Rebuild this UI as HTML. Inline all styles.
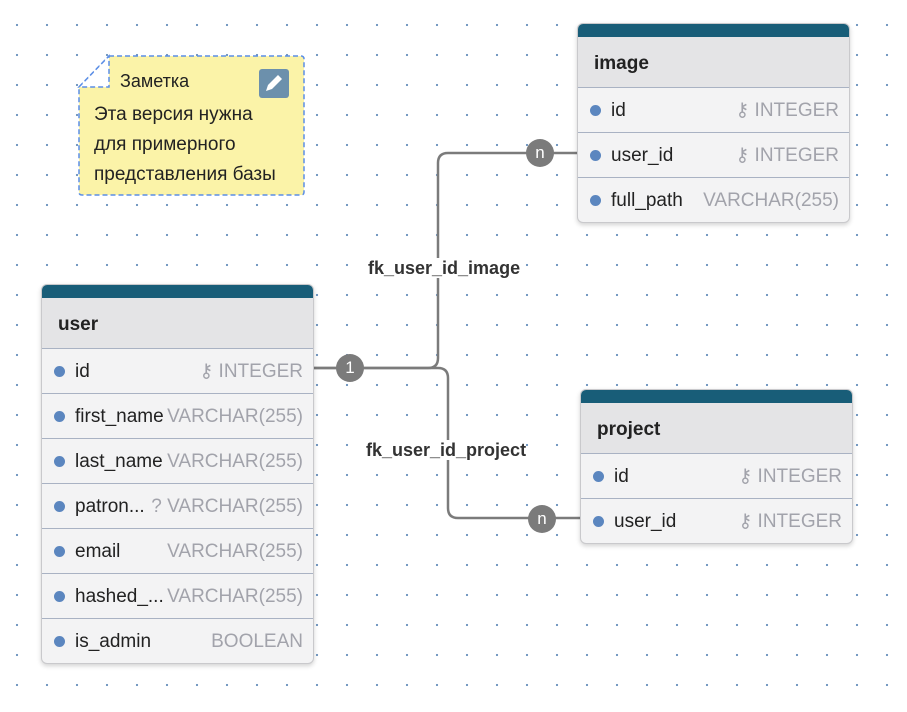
<!DOCTYPE html>
<html><head><meta charset="utf-8"><style>
body{margin:0;width:907px;height:712px;background:#fff;position:relative;overflow:hidden;font-family:"Segoe UI","Liberation Sans","DejaVu Sans",sans-serif;}
.grid{position:absolute;inset:0;background-image:radial-gradient(circle,#6f95bf 1px,transparent 1.3px);background-size:30px 30px;background-position:2px 10px;}
.tbl{position:absolute;width:271px;background:#f3f3f4;border:1px solid #c9c9cc;border-radius:6px;box-shadow:0 2px 5px rgba(0,0,0,.18);overflow:hidden}
.bar{height:13px;background:#185d78}
.hd{height:50px;background:#e4e4e6;border-bottom:1px solid #a9b2c3;font-weight:bold;font-size:19px;line-height:54px;padding-left:16px;color:#222}
.row{height:44px;border-bottom:1px solid #a9b2c3;position:relative;font-size:19px;line-height:46px;color:#222}
.row:last-child{border-bottom:none}
.row .d{position:absolute;left:12px;top:17px;width:11px;height:11px;border-radius:50%;background:#5b86bf}
.row .n{position:absolute;left:33px}
.row .t{position:absolute;right:10px;color:#a2a3ab}
.badge{position:absolute;width:28px;height:28px;border-radius:50%;background:#7b7b7b;color:#fff;font-size:17px;text-align:center;line-height:27px}
.lbl{position:absolute;font-size:18px;font-weight:600;color:#333;background:#fff;line-height:20px}
</style></head><body>
<div class="grid"></div>
<svg style="position:absolute;left:0;top:0" width="907" height="712">
<path d="M313 368 H428 Q438 368 438 358 V163 Q438 153 448 153 H577" fill="none" stroke="#7b7b7b" stroke-width="2.5"/>
<path d="M313 368 H438 Q448 368 448 378 V508 Q448 518 458 518 H580" fill="none" stroke="#7b7b7b" stroke-width="2.5"/>
<path d="M109 56 H301 Q304 56 304 59 V192 Q304 195 301 195 H82 Q79 195 79 192 V87 Z" fill="#fbf3a8" stroke="#5b8ee6" stroke-width="1.5" stroke-dasharray="5,3"/>
<path d="M79 87 L109 56 V87 Z" fill="#fff" stroke="#5b8ee6" stroke-width="1.5" stroke-dasharray="5,3"/>
<rect x="259" y="69" width="30" height="29" rx="3" fill="#6c90ac"/>
<path d="M266 91 l2-6 10-10 4 4-10 10z" fill="#fff"/>
</svg>
<div style="position:absolute;left:120px;top:71px;font-size:18px;color:#222">Заметка</div>
<div style="position:absolute;left:94px;top:100px;font-size:19px;line-height:30px;color:#222">Эта версия нужна<br>для примерного<br>представления базы</div>

<div class="tbl" style="left:577px;top:23px"><div class="bar"></div><div class="hd">image</div>
<div class="row"><span class="d"></span><span class="n">id</span><span class="t">⚷ INTEGER</span></div>
<div class="row"><span class="d"></span><span class="n">user_id</span><span class="t">⚷ INTEGER</span></div>
<div class="row"><span class="d"></span><span class="n">full_path</span><span class="t">VARCHAR(255)</span></div></div>

<div class="tbl" style="left:580px;top:389px"><div class="bar"></div><div class="hd">project</div>
<div class="row"><span class="d"></span><span class="n">id</span><span class="t">⚷ INTEGER</span></div>
<div class="row"><span class="d"></span><span class="n">user_id</span><span class="t">⚷ INTEGER</span></div></div>

<div class="tbl" style="left:41px;top:284px"><div class="bar"></div><div class="hd">user</div>
<div class="row"><span class="d"></span><span class="n">id</span><span class="t">⚷ INTEGER</span></div>
<div class="row"><span class="d"></span><span class="n">first_name</span><span class="t">VARCHAR(255)</span></div>
<div class="row"><span class="d"></span><span class="n">last_name</span><span class="t">VARCHAR(255)</span></div>
<div class="row"><span class="d"></span><span class="n">patron...</span><span class="t">? VARCHAR(255)</span></div>
<div class="row"><span class="d"></span><span class="n">email</span><span class="t">VARCHAR(255)</span></div>
<div class="row"><span class="d"></span><span class="n">hashed_...</span><span class="t">VARCHAR(255)</span></div>
<div class="row"><span class="d"></span><span class="n">is_admin</span><span class="t">BOOLEAN</span></div></div>

<div class="badge" style="left:336px;top:354px">1</div>
<div class="badge" style="left:526px;top:139px">n</div>
<div class="badge" style="left:528px;top:505px">n</div>
<div class="lbl" style="left:368px;top:258px">fk_user_id_image</div>
<div class="lbl" style="left:366px;top:440px">fk_user_id_project</div>
</body></html>
